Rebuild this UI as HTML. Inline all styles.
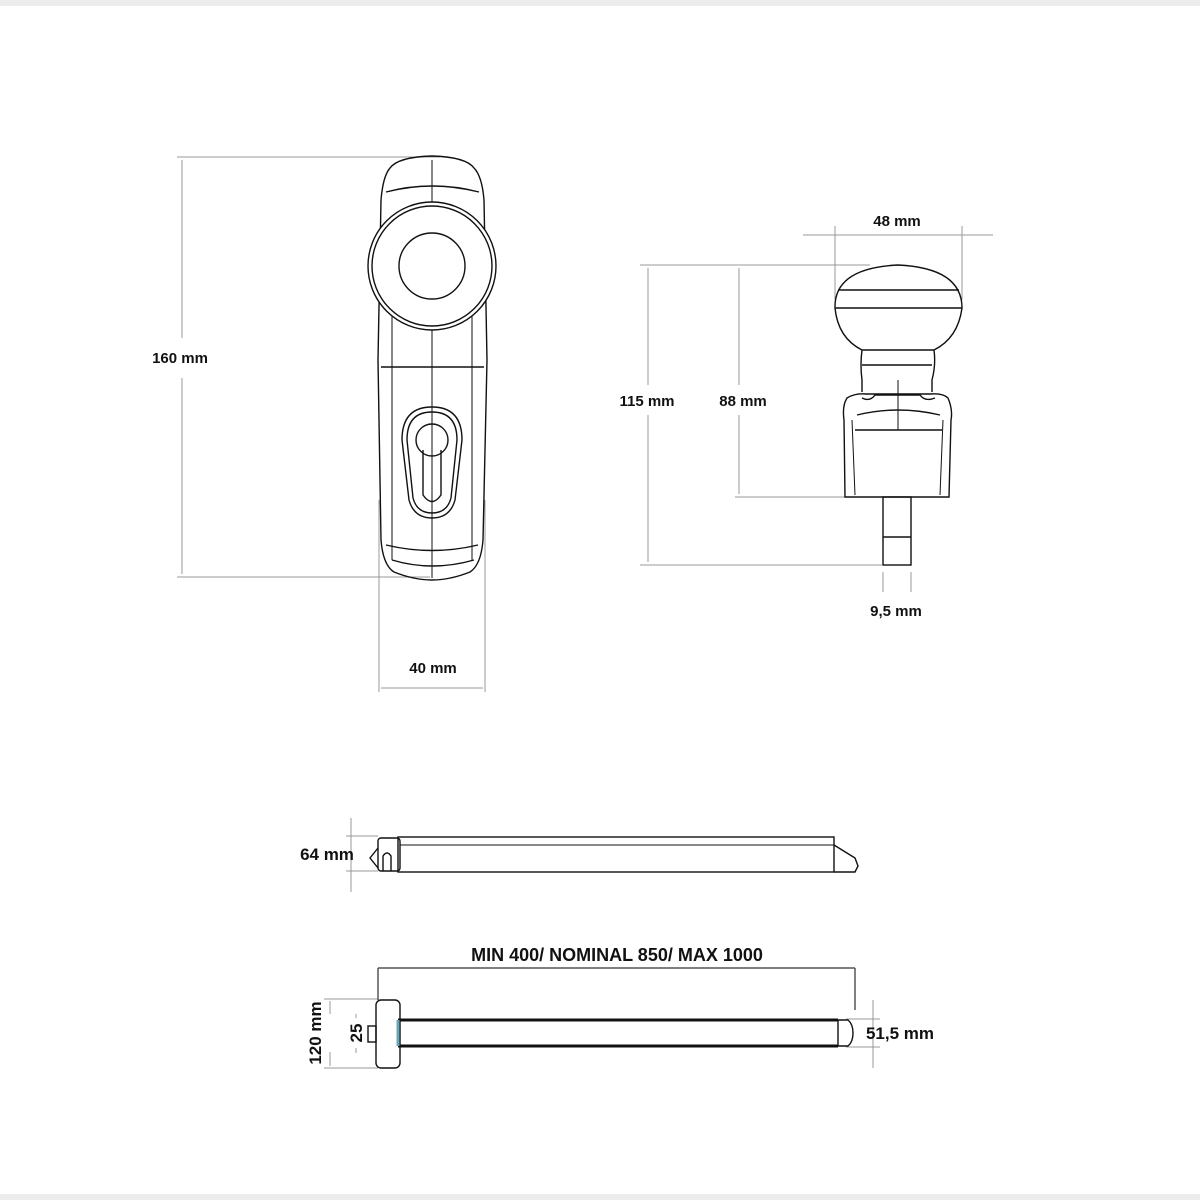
<!DOCTYPE html>
<html><head><meta charset="utf-8"><style>
html,body{margin:0;padding:0;background:#fff}
svg{display:block}
text{font-family:"Liberation Sans",sans-serif;font-weight:bold;fill:#111}
</style></head><body>
<svg width="1200" height="1200" viewBox="0 0 1200 1200" xmlns="http://www.w3.org/2000/svg">
<rect x="0" y="0" width="1200" height="6" fill="#ececec"/>
<rect x="0" y="1194" width="1200" height="6" fill="#ececec"/>
<g stroke="#999" stroke-width="1" fill="none">
 <line x1="177" y1="157" x2="440" y2="157"/>
 <line x1="177" y1="577" x2="430" y2="577"/>
 <line x1="182" y1="160" x2="182" y2="338"/>
 <line x1="182" y1="378" x2="182" y2="574"/>
 <line x1="379" y1="500" x2="379" y2="692"/>
 <line x1="485" y1="500" x2="485" y2="692"/>
 <line x1="381" y1="688" x2="483" y2="688"/>
 <line x1="803" y1="235" x2="993" y2="235"/>
 <line x1="835" y1="226" x2="835" y2="300"/>
 <line x1="962" y1="226" x2="962" y2="300"/>
 <line x1="640" y1="265" x2="870" y2="265"/>
 <line x1="640" y1="565" x2="882" y2="565"/>
 <line x1="648" y1="268" x2="648" y2="385"/>
 <line x1="648" y1="415" x2="648" y2="562"/>
 <line x1="739" y1="268" x2="739" y2="385"/>
 <line x1="739" y1="415" x2="739" y2="494"/>
 <line x1="735" y1="497" x2="850" y2="497"/>
 <line x1="883" y1="572" x2="883" y2="592"/>
 <line x1="911" y1="572" x2="911" y2="592"/>
 <line x1="351" y1="818" x2="351" y2="892"/>
 <line x1="346" y1="836" x2="378" y2="836"/>
 <line x1="346" y1="871" x2="378" y2="871"/>
 <line x1="324" y1="999" x2="378" y2="999"/>
 <line x1="324" y1="1068" x2="378" y2="1068"/>
 <line x1="330" y1="1001" x2="330" y2="1014"/>
 <line x1="330" y1="1052" x2="330" y2="1066"/>
 <line x1="356" y1="1014" x2="356" y2="1018"/>
 <line x1="356" y1="1048" x2="356" y2="1053"/>
 <line x1="873" y1="1000" x2="873" y2="1068"/>
 <line x1="846" y1="1019" x2="880" y2="1019"/>
 <line x1="846" y1="1047" x2="880" y2="1047"/>
</g>
<g stroke="#555" stroke-width="1.5" fill="none">
 <line x1="378" y1="968" x2="855" y2="968"/>
 <line x1="378" y1="968" x2="378" y2="1000"/>
 <line x1="855" y1="968" x2="855" y2="1010"/>
</g>
<g stroke="#111" stroke-width="1.4" fill="none">
 <path d="M390 168 Q398 157 432 156 Q466 157 474 168 Q482 176 484 200 L487 360 L483 540 Q481 565 470 572 Q450 580 432 580 Q414 580 394 572 Q383 565 381 540 L378 360 L381 200 Q383 176 390 168 Z"/>
 <path d="M386 192 Q432 180 479 192"/>
 <path d="M392 560 Q432 572 474 560"/>
 <path d="M386 545 Q432 556 478 545"/>
 <line x1="381" y1="367" x2="484" y2="367"/>
 <line x1="432" y1="160" x2="432" y2="578" stroke-width="1"/>
 <line x1="392" y1="300" x2="392" y2="560" stroke-width="1"/>
 <line x1="472" y1="300" x2="472" y2="560" stroke-width="1"/>
 <circle cx="432" cy="266" r="64" fill="#fff"/>
 <circle cx="432" cy="266" r="60"/>
 <circle cx="432" cy="266" r="33"/>
 <path d="M432 407 Q462 407 462 440 L455 500 Q450 518 432 518 Q414 518 409 500 L402 440 Q402 407 432 407 Z"/>
 <path d="M432 412 Q457 412 457 440 L451 498 Q447 513 432 513 Q417 513 413 498 L407 440 Q407 412 432 412 Z"/>
 <circle cx="432" cy="440" r="16"/>
 <path d="M423 450 L423 495 Q432 508 441 495 L441 450"/>
</g>
<g stroke="#111" stroke-width="1.4" fill="none">
 <path d="M862 350 Q838 338 835 308 Q834 268 898 265 Q962 268 962 308 Q958 338 934 350 Z" fill="#fff"/>
 <line x1="838" y1="290" x2="959" y2="290"/>
 <line x1="835" y1="308" x2="962" y2="308"/>
 <path d="M862 350 Q860 365 862 380 L862 392 M934 350 Q936 365 932 380 L932 392"/>
 <line x1="862" y1="365" x2="932" y2="365"/>
 <path d="M847 398 Q855 393 866 394 L930 394 Q943 393 948 398 Q953 410 951 420 L949 497 L845 497 L844 420 Q842 406 847 398 Z"/>
 <path d="M862 398 Q870 402 875 395 L920 395 Q925 402 935 398"/>
 <path d="M857 415 Q898 405 940 415"/>
 <line x1="855" y1="430" x2="942" y2="430"/>
 <line x1="898" y1="380" x2="898" y2="430" stroke-width="1"/>
 <line x1="852" y1="420" x2="855" y2="495" stroke-width="1"/>
 <line x1="943" y1="420" x2="940" y2="495" stroke-width="1"/>
 <rect x="883" y="497" width="28" height="68"/>
 <line x1="883" y1="537" x2="911" y2="537"/>
</g>
<g stroke="#111" stroke-width="1.4" fill="none">
 <rect x="378" y="838" width="22" height="33" rx="3"/>
 <path d="M378 848 L370 858 L378 868"/>
 <path d="M383 871 L383 856 Q387 850 391 856 L391 871"/>
 <rect x="398" y="837" width="436" height="35"/>
 <line x1="400" y1="845" x2="834" y2="845" stroke-width="1"/>
 <path d="M834 845 L855 858 L858 866 L855 872 L834 872"/>
</g>
<g stroke="#111" stroke-width="1.4" fill="none">
 <rect x="376" y="1000" width="24" height="68" rx="5"/>
 <rect x="368" y="1026" width="8" height="16"/>
 <line x1="398" y1="1020" x2="838" y2="1020" stroke-width="3"/>
 <line x1="398" y1="1046" x2="838" y2="1046" stroke-width="3"/>
 <line x1="398" y1="1020" x2="398" y2="1046" stroke="#6aa8b8" stroke-width="3"/>
 <path d="M838 1020 L848 1020 Q853 1024 853 1033 Q853 1042 848 1046 L838 1046 Z"/>
</g>
<text x="180" y="363" font-size="15" text-anchor="middle">160 mm</text>
<text x="433" y="673" font-size="15" text-anchor="middle">40 mm</text>
<text x="897" y="226" font-size="15" text-anchor="middle">48 mm</text>
<text x="647" y="406" font-size="15" text-anchor="middle">115 mm</text>
<text x="743" y="406" font-size="15" text-anchor="middle">88 mm</text>
<text x="896" y="616" font-size="15" text-anchor="middle">9,5 mm</text>
<text x="327" y="860" font-size="17" text-anchor="middle">64 mm</text>
<text x="617" y="961" font-size="18" text-anchor="middle">MIN 400/ NOMINAL 850/ MAX 1000</text>
<text x="900" y="1039" font-size="17" text-anchor="middle">51,5 mm</text>
<text transform="translate(321,1033) rotate(-90)" font-size="17" text-anchor="middle">120 mm</text>
<text transform="translate(362,1033) rotate(-90)" font-size="17" text-anchor="middle">25</text>
</svg>
</body></html>
